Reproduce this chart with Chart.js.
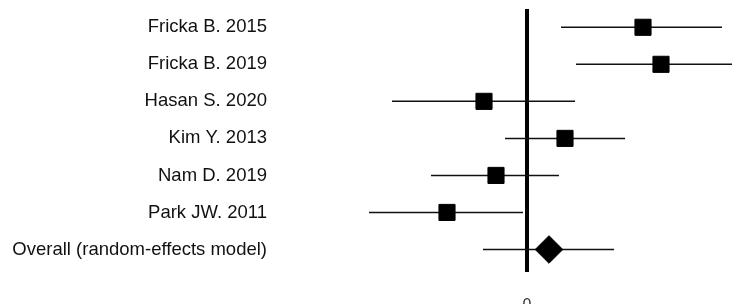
<!DOCTYPE html>
<html>
<head>
<meta charset="utf-8">
<title>Forest plot</title>
<script src="https://cdn.jsdelivr.net/npm/chart.js@4/dist/chart.umd.min.js"></script>
<style>
    html, body { margin: 0; padding: 0; background: #fff; overflow: hidden; }
    #wrap { position: relative; width: 732px; height: 320px; }
</style>
</head>
<body>
<div id="wrap"><canvas id="forest"></canvas></div>
<script>
// Study labels, top to bottom
var studies = [
    'Fricka B. 2015',
    'Fricka B. 2019',
    'Hasan S. 2020',
    'Kim Y. 2013',
    'Nam D. 2019',
    'Park JW. 2011',
    'Overall (random-effects model)'
];
// Point estimates and confidence limits
var estimates = [1.16, 1.34, -0.43, 0.38, -0.31, -0.80, 0.22];
var lowerCI = [0.34, 0.49, -1.35, -0.22, -0.96, -1.58, -0.44];
var upperCI = [1.95, 2.15, 0.48, 0.98, 0.32, -0.04, 0.87];
// Only the null line tick is labelled
var xTicks = [0];

(function () {
    var overallIdx = studies.length - 1;
    var labelFont = { family: '"Liberation Sans", Arial, sans-serif', size: 18.5 };

    // one little line dataset per confidence interval
    var ciSets = studies.map(function (name, i) {
        return {
            type: 'scatter',
            data: [{ x: lowerCI[i], y: i }, { x: upperCI[i], y: i }],
            showLine: true,
            borderColor: '#111',
            borderWidth: 1.5,
            pointRadius: 0,
            order: 2
        };
    });

    var markers = {
        type: 'scatter',
        data: estimates.map(function (v, i) { return { x: v, y: i }; }),
        pointStyle: function (ctx) { return ctx.dataIndex === overallIdx ? 'rectRot' : 'rect'; },
        pointRadius: function (ctx) { return ctx.dataIndex === overallIdx ? 13.8 : 11.4; },
        backgroundColor: '#000',
        borderColor: '#000',
        borderWidth: 1,
        showLine: false,
        order: 1
    };

    new Chart(document.getElementById('forest'), {
        type: 'scatter',
        data: { datasets: ciSets.concat([markers]) },
        options: {
            responsive: true,
            maintainAspectRatio: false,
            animation: false,
            // no auto padding: the chart area must start right at the label column
            layout: { autoPadding: false, padding: { top: 9, left: 0, right: 0, bottom: 0 } },
            plugins: { legend: { display: false }, tooltip: { enabled: false } },
            scales: {
                x: {
                    type: 'linear',
                    min: -2.47,
                    max: 2.05,
                    afterBuildTicks: function (scale) {
                        scale.ticks = xTicks.map(function (v) { return { value: v }; });
                    },
                    afterFit: function (scale) {
                        scale.height = 48;
                        scale.paddingLeft = 0;
                        scale.paddingRight = 0;
                    },
                    border: { display: false },
                    grid: {
                        drawTicks: false,
                        lineWidth: 4,
                        color: function (ctx) { return ctx.tick && ctx.tick.value === 0 ? '#000' : 'rgba(0,0,0,0)'; }
                    },
                    ticks: {
                        padding: 24,
                        color: '#333',
                        font: { family: '"Liberation Sans", Arial, sans-serif', size: 16 }
                    }
                },
                y: {
                    type: 'linear',
                    reverse: true,
                    min: -0.494,
                    max: 6.608,
                    afterBuildTicks: function (scale) {
                        scale.ticks = studies.map(function (s, i) { return { value: i }; });
                    },
                    afterFit: function (scale) {
                        scale.width = 280;
                        scale.paddingTop = 0;
                        scale.paddingBottom = 0;
                    },
                    border: { display: false },
                    grid: { display: false, drawTicks: false },
                    ticks: {
                        padding: 13,
                        color: '#111',
                        font: labelFont,
                        callback: function (value) { return studies[value]; }
                    }
                }
            }
        }
    });
})();
</script>
</body>
</html>
